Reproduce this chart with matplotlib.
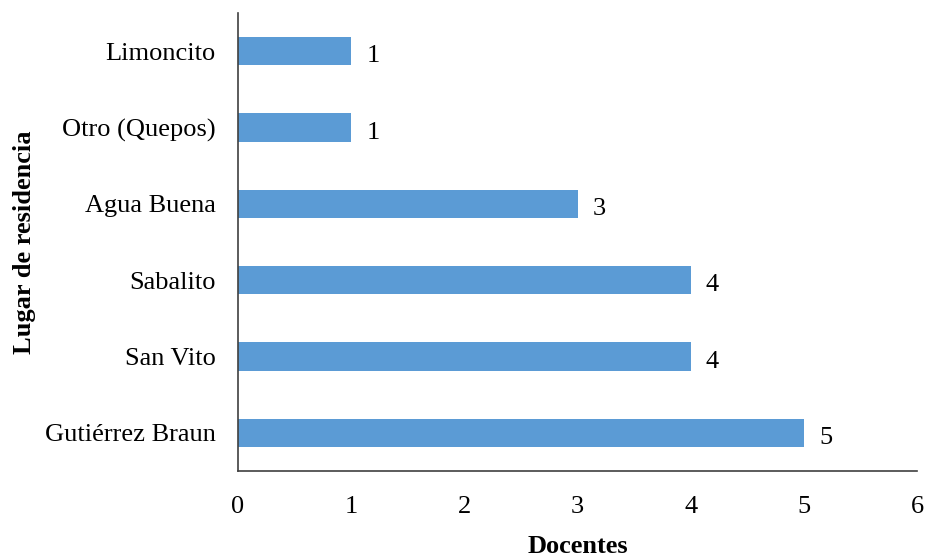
import matplotlib
matplotlib.use("Agg")
import matplotlib.pyplot as plt

categories = ["Gutiérrez Braun", "San Vito", "Sabalito", "Agua Buena", "Otro (Quepos)", "Limoncito"]
values = [5, 4, 4, 3, 1, 1]
xticks = [0, 1, 2, 3, 4, 5, 6]

plt.rcParams['font.family'] = ['Liberation Serif', 'DejaVu Serif']
FS = 19

fig = plt.figure(figsize=(9.28, 5.56), dpi=100)
ax = fig.add_axes([238/928, 1 - 471/556, (917 - 238)/928, (471 - 13)/556])

bars = ax.barh(range(len(categories)), values, height=0.37, color="#5B9BD5")
for i, v in enumerate(values):
    ax.annotate(str(v), xy=(v, i), xytext=(11, -2), textcoords="offset points",
                ha="left", va="center_baseline", fontsize=FS)

ax.set_xlim(0, 6)
ax.set_ylim(-0.5, 5.5)
ax.set_xticks(xticks)
ax.set_xticklabels([str(t) for t in xticks])
ax.set_yticks(range(len(categories)))
ax.set_yticklabels(categories)
ax.tick_params(axis='both', length=0, labelsize=FS)
ax.tick_params(axis='x', pad=18)
ax.tick_params(axis='y', pad=16)

for s in ["top", "right"]:
    ax.spines[s].set_visible(False)
for s in ["left", "bottom"]:
    ax.spines[s].set_color("#404040")
    ax.spines[s].set_linewidth(1.2)

ax.set_xlabel("Docentes", fontsize=FS, fontweight="bold", labelpad=12)
fig.text(25/928, 0.5 * ((1 - 471/556) + (1 - 13/556)), "Lugar de residencia", rotation=90,
         ha="center", va="center", fontsize=FS, fontweight="bold")

fig.savefig("out.png", dpi=100)
